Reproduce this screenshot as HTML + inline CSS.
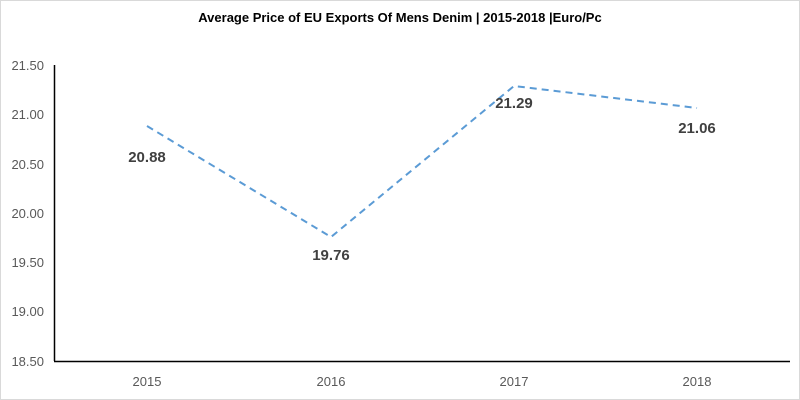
<!DOCTYPE html>
<html><head><style>
body{margin:0;background:#fff}
svg{display:block}
text{font-family:"Liberation Sans",sans-serif}
</style></head><body>
<svg width="800" height="400" viewBox="0 0 800 400">
<rect x="0.5" y="0.5" width="799" height="399" fill="#fff" stroke="#d9d9d9"/>
<text x="400" y="22" text-anchor="middle" font-size="13" font-weight="bold" fill="#000">Average Price of EU Exports Of Mens Denim | 2015-2018 |Euro/Pc</text>
<g font-size="13" fill="#595959" text-anchor="end">
<text x="44" y="70">21.50</text>
<text x="44" y="119">21.00</text>
<text x="44" y="169">20.50</text>
<text x="44" y="218">20.00</text>
<text x="44" y="267">19.50</text>
<text x="44" y="316">19.00</text>
<text x="44" y="366">18.50</text>
</g>
<line x1="54.5" y1="65" x2="54.5" y2="361" stroke="#000" stroke-width="1.5"/>
<line x1="54" y1="361.5" x2="790" y2="361.5" stroke="#000" stroke-width="1.5"/>
<g font-size="13" fill="#595959" text-anchor="middle">
<text x="147" y="386">2015</text>
<text x="331" y="386">2016</text>
<text x="514" y="386">2017</text>
<text x="697" y="386">2018</text>
</g>
<polyline points="147,126 331,237 514,86 697,108" fill="none" stroke="#5b9bd5" stroke-width="2" stroke-dasharray="7,5"/>
<g font-size="15" font-weight="bold" fill="#404040" text-anchor="middle">
<text x="147" y="162">20.88</text>
<text x="331" y="260">19.76</text>
<text x="514" y="108">21.29</text>
<text x="697" y="133">21.06</text>
</g>
</svg>
</body></html>
